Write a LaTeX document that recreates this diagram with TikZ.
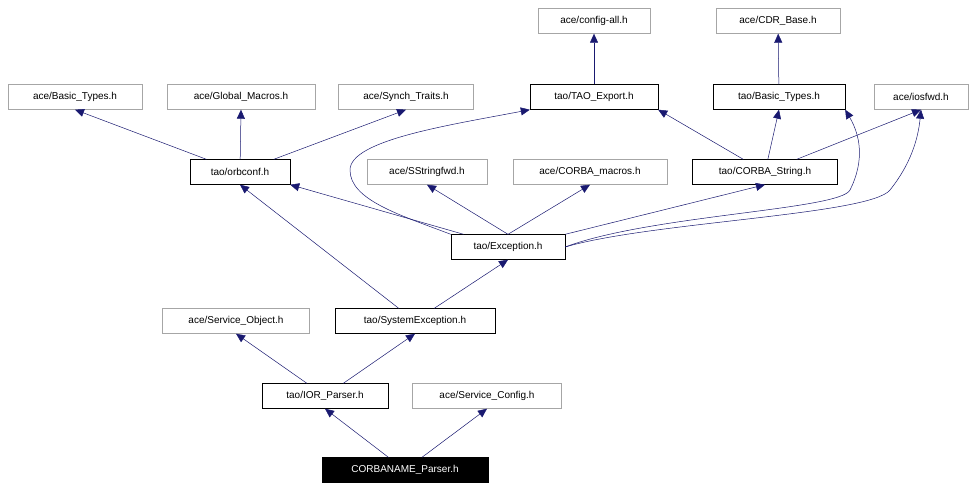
\documentclass[tikz,border=0pt]{standalone}
\usepackage{fontspec}
\setmainfont{Liberation Sans}
\usetikzlibrary{arrows.meta}
\begin{document}
\begin{tikzpicture}[x=1pt,y=-1pt,
 b/.style={draw=black,fill=white,inner sep=0pt,minimum height=25pt,font=\fontsize{10}{12}\selectfont},
 g/.style={b,draw=gray!70},
 e/.style={draw={rgb,255:red,25;green,25;blue,112},-{Triangle[length=9pt,width=8pt]},line width=0.5pt}]
\useasboundingbox (0,0) rectangle (976,490);
\node[g,minimum width=112pt] (cfg) at (594,21) {ace/config-all.h};
\node[g,minimum width=124pt] (cdr) at (778,21) {ace/CDR\_Base.h};
\node[g,minimum width=134pt] (abt) at (75,97) {ace/Basic\_Types.h};
\node[g,minimum width=148pt] (gm) at (241,97) {ace/Global\_Macros.h};
\node[g,minimum width=135pt] (st) at (406,97) {ace/Synch\_Traits.h};
\node[b,minimum width=128pt] (te) at (594,97) {tao/TAO\_Export.h};
\node[b,minimum width=132pt] (tbt) at (779,97) {tao/Basic\_Types.h};
\node[g,minimum width=94pt] (io) at (921,97) {ace/iosfwd.h};
\node[b,minimum width=100pt] (orb) at (240,172) {tao/orbconf.h};
\node[g,minimum width=120pt] (ss) at (427,172) {ace/SStringfwd.h};
\node[g,minimum width=154pt] (cm) at (590,172) {ace/CORBA\_macros.h};
\node[b,minimum width=145pt] (cs) at (765,172) {tao/CORBA\_String.h};
\node[b,minimum width=114pt] (ex) at (508,247) {tao/Exception.h};
\node[g,minimum width=147pt] (so) at (236,321) {ace/Service\_Object.h};
\node[b,minimum width=160pt] (se) at (415,321) {tao/SystemException.h};
\node[b,minimum width=126pt] (ior) at (325,396) {tao/IOR\_Parser.h};
\node[g,minimum width=149pt] (sc) at (487,396) {ace/Service\_Config.h};
\node[b,minimum width=166pt,fill=black,text=white] (cn) at (405,470) {CORBANAME\_Parser.h};
\draw[e] (cn) -- (ior.south);
\draw[e] (cn) -- (sc.south);
\draw[e] (ior) -- (so.south);
\draw[e] (ior) -- (se.south);
\draw[e] (se) -- (orb.south);
\draw[e] (se) -- (ex.south);
\draw[e] (ex) -- (orb.south east);
\draw[e] (ex.north) -- (ss.south);
\draw[e] (ex.north) -- (cm.south);
\draw[e] (ex.north east) -- (cs.south);
\draw[e] (ex.north west) .. controls (400,215) and (350,200) .. (350,170) .. controls (350,140) and (450,125) .. (te.south west);
\draw[e] (ex.east) .. controls (650,215) and (840,210) .. (850,190) .. controls (865,160) and (860,135) .. (tbt.south east);
\draw[e] (ex.east) .. controls (650,222) and (870,215) .. (890,190) .. controls (910,165) and (918,140) .. (io.south);
\draw[e] (orb) -- (abt.south);
\draw[e] (orb) -- (gm.south);
\draw[e] (orb) -- (st.south);
\draw[e] (te) -- (cfg);
\draw[e] (tbt) -- (cdr);
\draw[e] (cs) -- (tbt.south);
\draw[e] (cs) -- (te.south east);
\draw[e] (cs) -- (io.south);
\end{tikzpicture}
\end{document}
